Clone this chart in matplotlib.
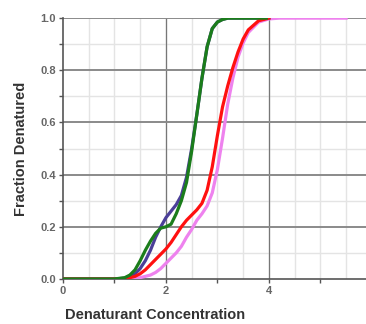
import matplotlib
matplotlib.use("Agg")
import matplotlib.pyplot as plt
import numpy as np

# denaturation curves
blue_x = [0, 1.0, 1.2, 1.3, 1.4, 1.5, 1.6, 1.7, 1.8, 1.9, 2.0, 2.1, 2.2, 2.3, 2.4, 2.5, 2.6, 2.7, 2.8, 2.9, 3.0, 3.1, 3.2, 4.0]
blue_y = [0, 0, 0.003, 0.01, 0.02, 0.04, 0.07, 0.11, 0.16, 0.2, 0.235, 0.26, 0.285, 0.32, 0.39, 0.5, 0.63, 0.77, 0.89, 0.96, 0.985, 0.995, 1.0, 1.0]

green_x = [0, 1.0, 1.2, 1.3, 1.4, 1.5, 1.6, 1.7, 1.8, 1.9, 2.0, 2.1, 2.2, 2.3, 2.4, 2.5, 2.6, 2.7, 2.8, 2.9, 3.0, 3.1, 3.2, 3.4, 3.95]
green_y = [0, 0, 0.005, 0.015, 0.035, 0.07, 0.11, 0.145, 0.175, 0.195, 0.2, 0.21, 0.25, 0.3, 0.37, 0.49, 0.63, 0.77, 0.89, 0.96, 0.985, 0.995, 1.0, 1.0, 1.0]

red_x = [0, 1.2, 1.4, 1.5, 1.6, 1.7, 1.8, 1.9, 2.0, 2.1, 2.2, 2.3, 2.4, 2.5, 2.6, 2.7, 2.8, 2.9, 3.0, 3.1, 3.2, 3.3, 3.4, 3.5, 3.6, 3.8, 4.0]
red_y = [0, 0, 0.01, 0.02, 0.035, 0.055, 0.075, 0.095, 0.115, 0.14, 0.17, 0.2, 0.225, 0.245, 0.265, 0.29, 0.34, 0.43, 0.55, 0.66, 0.74, 0.81, 0.87, 0.92, 0.955, 0.99, 1.0]

pink_x = [0, 1.3, 1.5, 1.6, 1.7, 1.8, 1.9, 2.0, 2.1, 2.2, 2.3, 2.4, 2.5, 2.6, 2.7, 2.8, 2.9, 3.0, 3.1, 3.2, 3.3, 3.4, 3.5, 3.6, 3.8, 4.0, 4.2, 5.5]
pink_y = [0, 0, 0.005, 0.01, 0.015, 0.025, 0.04, 0.06, 0.08, 0.1, 0.125, 0.16, 0.19, 0.225, 0.25, 0.28, 0.33, 0.42, 0.54, 0.67, 0.77, 0.85, 0.905, 0.945, 0.985, 0.997, 1.0, 1.0]

x_ticks = [0, 2, 4, 6]
y_ticks = [0.0, 0.2, 0.4, 0.6, 0.8, 1.0]

plt.rcParams['font.family'] = ['Liberation Sans', 'DejaVu Sans']

fig = plt.figure(figsize=(3.66, 3.24), dpi=100)
ax = fig.add_axes([0.172, 0.139, 0.844, 0.805])

# light minor grid
for v in np.arange(0.5, 6, 0.5):
    ax.axvline(v, color="#e4e4e4", lw=1.0, zorder=0)
for v in np.arange(0.1, 1.0, 0.2):
    ax.axhline(v, color="#e4e4e4", lw=1.0, zorder=0)
# darker major grid
for v in [2, 4]:
    ax.axvline(v, color="#777777", lw=0.9, zorder=1)
for v in [0.2, 0.4, 0.6, 0.8, 1.0]:
    ax.axhline(v, color="#8a8a8a", lw=1.4, zorder=1)

ax.plot(pink_x, pink_y, color="#ee82ee", lw=2.3, zorder=3)
ax.plot(blue_x, blue_y, color="#4b3f98", lw=2.3, zorder=4)
ax.plot(green_x, green_y, color="#1b7d1b", lw=2.3, zorder=5)
ax.plot(red_x, red_y, color="#ff1010", lw=2.3, zorder=4.5)

ax.set_xlim(0, 6)
ax.set_ylim(0, 1.0)
ax.set_xticks(x_ticks)
ax.set_xticks([1, 3, 5], minor=True)
ax.set_yticks(y_ticks)
ax.set_yticks([0.1, 0.3, 0.5, 0.7, 0.9], minor=True)
ax.set_yticklabels([f"{t:.1f}" for t in y_ticks])

for s in ["top", "right"]:
    ax.spines[s].set_visible(False)
ax.spines["left"].set_color("#555555")
ax.spines["bottom"].set_color("#555555")
ax.spines["left"].set_linewidth(1.2)
ax.spines["bottom"].set_linewidth(1.2)

ax.tick_params(which="both", length=3, width=1, color="#555555",
               labelsize=8, labelcolor="#666666", pad=2)
for lab in ax.get_xticklabels() + ax.get_yticklabels():
    lab.set_fontweight("bold")

ax.set_xlabel("Denaturant Concentration", fontsize=10.5, fontweight="bold", color="#333333", labelpad=7)
ax.set_ylabel("Fraction Denatured", fontsize=10.5, fontweight="bold", color="#333333", labelpad=9)
ax.xaxis.set_label_coords(0.297, -0.11)

fig.savefig("out.png", dpi=100)
